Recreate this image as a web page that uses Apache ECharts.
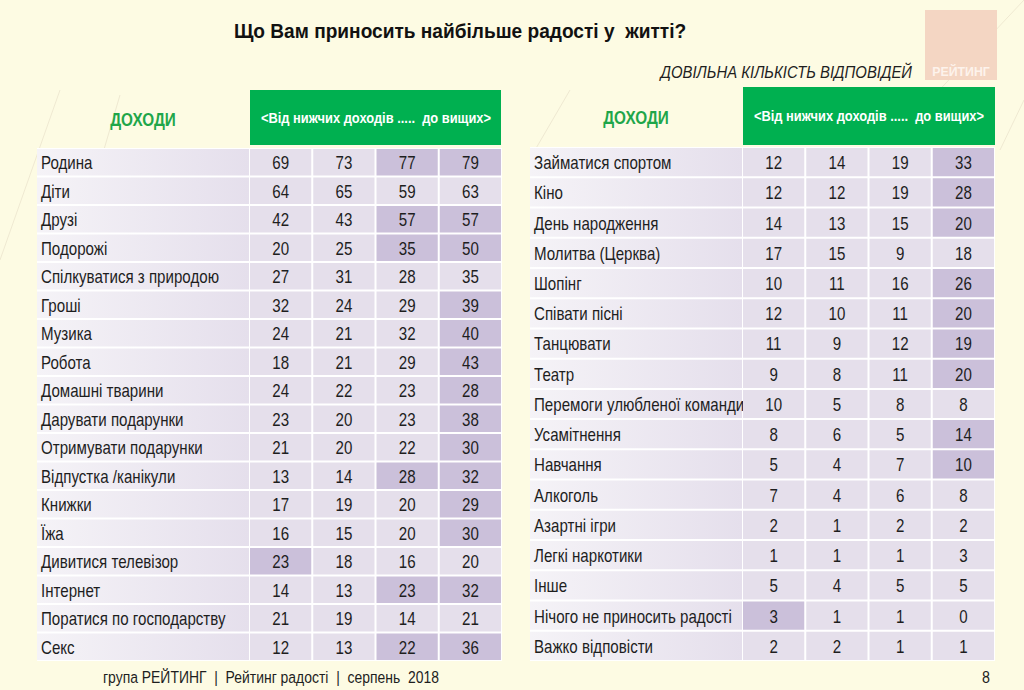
<!DOCTYPE html>
<html>
<head>
<meta charset="utf-8">
<script src="https://cdn.jsdelivr.net/npm/echarts@6/dist/echarts.min.js"></script>
<style>html,body{margin:0;padding:0;background:#fdfbe3;}#c{width:1024px;height:690px;}</style>
</head>
<body>
<div id="c"></div>
<script>
// ---------- DATA ----------
const leftCategories = ['Родина','Діти','Друзі','Подорожі','Спілкуватися з природою','Гроші','Музика','Робота','Домашні тварини','Дарувати подарунки','Отримувати подарунки','Відпустка /канікули','Книжки','Їжа','Дивитися телевізор','Інтернет','Поратися по господарству','Секс'];
const leftG1 = [69,64,42,20,27,32,24,18,24,23,21,13,17,16,23,14,21,12];
const leftG2 = [73,65,43,25,31,24,21,21,22,20,20,14,19,15,18,13,19,13];
const leftG3 = [77,59,57,35,28,29,32,29,23,23,22,28,20,20,16,23,14,22];
const leftG4 = [79,63,57,50,35,39,40,43,28,38,30,32,29,30,20,32,21,36];
// highlighted cells: [row, group]
const leftHighlight = [[0,2],[0,3],[2,2],[2,3],[3,2],[3,3],[5,3],[6,3],[7,3],[8,3],[9,3],[10,3],[11,2],[11,3],[12,3],[13,3],[14,0],[15,2],[15,3],[17,2],[17,3]];

const rightCategories = ['Займатися спортом','Кіно','День народження','Молитва (Церква)','Шопінг','Співати пісні','Танцювати','Театр','Перемоги улюбленої команди','Усамітнення','Навчання','Алкоголь','Азартні ігри','Легкі наркотики','Інше','Нічого не приносить радості','Важко відповісти'];
const rightG1 = [12,12,14,17,10,12,11,9,10,8,5,7,2,1,5,3,2];
const rightG2 = [14,12,13,15,11,10,9,8,5,6,4,4,1,1,4,1,2];
const rightG3 = [19,19,15,9,16,11,12,11,8,5,7,6,2,1,5,1,1];
const rightG4 = [33,28,20,18,26,20,19,20,8,14,10,8,2,3,5,0,1];
const rightHighlight = [[0,3],[1,3],[2,3],[4,3],[5,3],[6,3],[7,3],[9,3],[10,3],[15,0]];

const groups = ['1','2','3','4'];
const title = 'Що Вам приносить найбільше радості у  житті?';
const subtitle = 'ДОВІЛЬНА КІЛЬКІСТЬ ВІДПОВІДЕЙ';
const headerLeft = 'ДОХОДИ';
const headerRight = '<Від нижчих доходів .....  до вищих>';
const footer = 'група РЕЙТИНГ  |  Рейтинг радості  |  серпень  2018';
const pageNo = '8';
const logoText = 'РЕЙТИНГ';

// ---------- BUILD ----------
const FONT = '"Liberation Sans", Arial, sans-serif';
const CELL_SCALE = 0.84;
function valueData(cols, hi){
  const out = [];
  cols.forEach((col, g) => col.forEach((v, r) => {
    const h = hi.some(p => p[0] === r && p[1] === g) ? 1 : 0;
    out.push([g, r, v, h]);
  }));
  return out;
}
function labelData(cats){ return cats.map((c, i) => [0, i]); }

function renderValue(params, api){
  const c = api.coord([api.value(0), api.value(1)]);
  const s = api.size([1, 1]);
  const hi = api.value(3) === 1;
  return {
    type: 'group',
    children: [
      { type: 'rect', shape: { x: c[0] - s[0]/2 + 1, y: c[1] - s[1]/2 + 1, width: s[0] - 2, height: s[1] - 2 },
        style: { fill: hi ? '#cbc0da' : '#e5dfeb' } },
      { type: 'text', x: c[0], y: c[1] + 1, scaleX: CELL_SCALE,
        style: { text: String(api.value(2)), x: 0, y: 0, align: 'center', verticalAlign: 'middle',
        font: '18px ' + FONT, fill: '#1e1e1e' } }
    ]
  };
}
function makeRenderLabel(cats){
  return function(params, api){
    const c = api.coord([api.value(0), api.value(1)]);
    const s = api.size([1, 1]);
    const x0 = c[0] - s[0]/2, y0 = c[1] - s[1]/2;
    return {
      type: 'group',
      children: [
        { type: 'rect', shape: { x: x0, y: y0 + 1, width: s[0] - 1, height: s[1] - 2 },
          style: { fill: { type: 'linear', x: 0, y: 0, x2: 1, y2: 0,
            colorStops: [{ offset: 0, color: '#f5f3f7' }, { offset: 1, color: '#e5dfec' }] } } },
        { type: 'text', x: x0 + 4, y: c[1] + 1, scaleX: CELL_SCALE,
          style: { text: cats[params.dataIndex], x: 0, y: 0, align: 'left', verticalAlign: 'middle',
          font: '18px ' + FONT, fill: '#1e1e1e' } }
      ]
    };
  };
}
function gText(text, x, y, align, font, fill, sx){
  return { type: 'text', x: x, y: y, scaleX: sx, style: { text: text, x: 0, y: 0, align: align, verticalAlign: 'middle', font: font, fill: fill } };
}

const grids = [
  { left: 37, top: 148, width: 213, height: 513 },
  { left: 249, top: 148, width: 253, height: 513 },
  { left: 530, top: 147, width: 213, height: 514 },
  { left: 742, top: 147, width: 253, height: 514 }
].map(g => Object.assign({ show: true, backgroundColor: '#ffffff', borderWidth: 0 }, g));

const xAxes = [
  { gridIndex: 0, type: 'category', data: ['label'], show: false },
  { gridIndex: 1, type: 'category', data: groups, show: false },
  { gridIndex: 2, type: 'category', data: ['label'], show: false },
  { gridIndex: 3, type: 'category', data: groups, show: false }
];
const yAxes = [
  { gridIndex: 0, type: 'category', data: leftCategories, inverse: true, show: false },
  { gridIndex: 1, type: 'category', data: leftCategories, inverse: true, show: false },
  { gridIndex: 2, type: 'category', data: rightCategories, inverse: true, show: false },
  { gridIndex: 3, type: 'category', data: rightCategories, inverse: true, show: false }
];

const chart = echarts.init(document.getElementById('c'), null, { renderer: 'svg' });
chart.setOption({
  backgroundColor: '#fdfbe3',
  animation: false,
  grid: grids,
  xAxis: xAxes,
  yAxis: yAxes,
  series: [
    { type: 'custom', xAxisIndex: 0, yAxisIndex: 0, data: labelData(leftCategories), renderItem: makeRenderLabel(leftCategories) },
    { type: 'custom', xAxisIndex: 1, yAxisIndex: 1, data: valueData([leftG1, leftG2, leftG3, leftG4], leftHighlight), renderItem: renderValue },
    { type: 'custom', xAxisIndex: 2, yAxisIndex: 2, data: labelData(rightCategories), renderItem: makeRenderLabel(rightCategories) },
    { type: 'custom', xAxisIndex: 3, yAxisIndex: 3, data: valueData([rightG1, rightG2, rightG3, rightG4], rightHighlight), renderItem: renderValue }
  ],
  graphic: [
    // faint background strokes
    { type: 'line', shape: { x1: 0, y1: 260, x2: 60, y2: 90 }, style: { stroke: '#efe9d2', lineWidth: 1 }, z: -10 },
    { type: 'line', shape: { x1: 95, y1: 180, x2: 120, y2: 95 }, style: { stroke: '#efe9d2', lineWidth: 1 }, z: -10 },
    { type: 'line', shape: { x1: 535, y1: 150, x2: 570, y2: 90 }, style: { stroke: '#efe9d2', lineWidth: 1 }, z: -10 },
    { type: 'line', shape: { x1: 930, y1: 100, x2: 1024, y2: 0 }, style: { stroke: '#efe9d2', lineWidth: 1 }, z: -10 },
    { type: 'line', shape: { x1: 1000, y1: 150, x2: 1024, y2: 100 }, style: { stroke: '#efe9d2', lineWidth: 1 }, z: -10 },
    // logo
    { type: 'rect', shape: { x: 925, y: 10, width: 72, height: 70 }, style: { fill: '#f4d6c3' } },
    gText(logoText, 961, 72, 'center', 'bold 13px ' + FONT, '#fdf3ec', 0.95),
    // title
    gText(title, 460, 31, 'center', 'bold 21px ' + FONT, '#111', 0.91),
    gText(subtitle, 912, 72, 'right', 'italic 16px ' + FONT, '#1e1e1e', 0.93),
    // headers
    gText(headerLeft, 143, 120, 'center', 'bold 18px ' + FONT, '#1fa64a', 0.85),
    gText(headerLeft, 636, 118, 'center', 'bold 18px ' + FONT, '#1fa64a', 0.85),
    { type: 'rect', shape: { x: 250, y: 90, width: 251, height: 55 }, style: { fill: '#00b050' } },
    { type: 'rect', shape: { x: 743, y: 87, width: 252, height: 58 }, style: { fill: '#00b050' } },
    gText(headerRight, 376, 118, 'center', 'bold 14px ' + FONT, '#ffffff', 0.92),
    gText(headerRight, 869, 116, 'center', 'bold 14px ' + FONT, '#ffffff', 0.92),
    // footer
    gText(footer, 103, 677, 'left', '17px ' + FONT, '#1e1e1e', 0.82),
    gText(pageNo, 990, 677, 'right', '17px ' + FONT, '#1e1e1e', 0.84)
  ]
});
</script>
</body>
</html>
